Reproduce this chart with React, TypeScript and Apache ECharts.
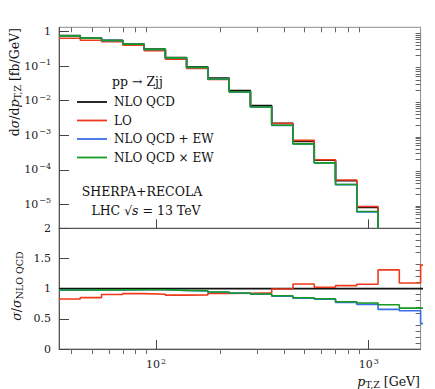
import React, { useEffect, useRef } from 'react';
import * as echarts from 'echarts';

// bin edges of p_T,Z [GeV] (last bin lies beyond the visible range)
const binEdges = [35, 44.06, 55.47, 69.83, 87.9, 110.7, 139.3, 175.4, 220.8, 278, 350, 440.6, 554.7, 698.3, 879, 1106.7, 1393, 1754, 2208];

// dσ/dp_T,Z [fb/GeV]
const nloQcd = [0.77, 0.66, 0.56, 0.44, 0.31, 0.178, 0.095, 0.045, 0.0195, 0.0072, 0.0022, 6.6e-4, 1.9e-4, 4.8e-5, 8.1e-6, 1.4e-6, 3e-7, 5e-8];
const lo = [0.638, 0.562, 0.506, 0.404, 0.281, 0.159, 0.085, 0.0414, 0.018, 0.0067, 0.00219, 7.11e-4, 1.94e-4, 5.04e-5, 8.68e-6, 1.84e-6, 3.3e-7, 7e-8];
const nloPlusEw = [0.752, 0.645, 0.548, 0.432, 0.304, 0.173, 0.0914, 0.0423, 0.018, 0.00653, 0.00192, 5.54e-4, 1.57e-4, 3.71e-5, 5.99e-6, 9.2e-7, 1.9e-7, 2e-8];
const nloTimesEw = [0.753, 0.646, 0.549, 0.433, 0.305, 0.173, 0.0917, 0.0425, 0.0181, 0.00656, 0.00194, 5.61e-4, 1.58e-4, 3.76e-5, 6.16e-6, 1.03e-6, 2.03e-7, 3.3e-8];

// σ / σ_NLO QCD
const ratioNlo = [1, 1, 1, 1, 1, 1, 1, 1, 1, 1, 1, 1, 1, 1, 1, 1, 1, 1];
const ratioLo = [0.828, 0.852, 0.903, 0.918, 0.908, 0.892, 0.895, 0.92, 0.925, 0.93, 0.995, 1.078, 1.022, 1.05, 1.072, 1.311, 1.094, 1.39];
const ratioPlusEw = [0.976, 0.977, 0.978, 0.981, 0.981, 0.97, 0.962, 0.94, 0.925, 0.907, 0.873, 0.84, 0.827, 0.772, 0.739, 0.656, 0.633, 0.42];
const ratioTimesEw = [0.978, 0.979, 0.98, 0.983, 0.983, 0.972, 0.965, 0.944, 0.928, 0.911, 0.883, 0.85, 0.833, 0.783, 0.761, 0.733, 0.678, 0.67];

const seriesNames = ['NLO QCD', 'LO', 'NLO QCD + EW', 'NLO QCD \u00d7 EW'];
const seriesColors = ['#111111', '#ee3a1c', '#3a6ee8', '#179a26'];

// axis ticks
const xMajorTicks = [100, 1000];
const xMinorTicks = [40, 50, 60, 70, 80, 90, 200, 300, 400, 500, 600, 700, 800, 900];
const yTopMajorTicks = [1, 0.1, 0.01, 0.001, 1e-4, 1e-5];
const yTopDecades = [1e-6, 1e-5, 1e-4, 1e-3, 1e-2, 1e-1];
const yTopMantissas = [2, 3, 4, 5, 6, 7, 8, 9];
const yBotMajorTicks = [0, 0.5, 1, 1.5, 2];
const yBotMinorTicks = [0.1, 0.2, 0.3, 0.4, 0.6, 0.7, 0.8, 0.9, 1.1, 1.2, 1.3, 1.4, 1.6, 1.7, 1.8, 1.9];

const X_MIN = 35;
const X_MAX = 1754;
const Y_TOP_MIN = 2.02e-6;
const Y_TOP_MAX = 1.33;

const FONT = '"DejaVu Serif", "Liberation Serif", serif';

function steps(edges: number[], vals: number[]) {
  const out: number[][] = [];
  for (let i = 0; i < vals.length; i++) {
    out.push([edges[i], vals[i]]);
    out.push([edges[i + 1], vals[i]]);
  }
  return out;
}

const supRich = {
  n: { fontFamily: FONT, fontSize: 11, color: '#222' },
  s: { fontFamily: FONT, fontSize: 8, color: '#222', padding: [0, 0, 7, 1] },
};

function powLabel(v: number) {
  const e = Math.round(Math.log10(v));
  if (e === 0) return '{n|1}';
  return '{n|10}{s|' + (e < 0 ? '\u2212' : '') + Math.abs(e) + '}';
}

const titleRich = {
  i: { fontFamily: FONT, fontSize: 12.5, fontStyle: 'italic', fill: '#111' },
  sub: { fontFamily: FONT, fontSize: 9.5, fill: '#111', padding: [6, 0, 0, 0] },
};

export default function App() {
  const ref = useRef<HTMLDivElement>(null);
  useEffect(() => {
    if (!ref.current) return;
    const chart = echarts.init(ref.current, undefined, { renderer: 'svg' });
    const yTopMinor: number[] = [];
    yTopDecades.forEach((d) =>
      yTopMantissas.forEach((m) => {
        const v = m * d;
        if (v > Y_TOP_MIN && v < Y_TOP_MAX) yTopMinor.push(v);
      })
    );
    const topVals = [nloQcd, lo, nloPlusEw, nloTimesEw];
    const botVals = [ratioNlo, ratioLo, ratioPlusEw, ratioTimesEw];
    const series: any[] = [];
    topVals.forEach((vals, i) => {
      series.push({
        type: 'line',
        name: seriesNames[i],
        xAxisIndex: 0,
        yAxisIndex: 0,
        data: steps(binEdges, vals),
        showSymbol: false,
        symbol: 'none',
        color: seriesColors[i],
        lineStyle: { color: seriesColors[i], width: 1.6 },
        clip: true,
        silent: true,
      });
    });
    botVals.forEach((vals, i) => {
      series.push({
        type: 'line',
        name: seriesNames[i],
        xAxisIndex: 2,
        yAxisIndex: 2,
        data: steps(binEdges, vals),
        showSymbol: false,
        symbol: 'none',
        color: seriesColors[i],
        lineStyle: { color: seriesColors[i], width: 1.6 },
        clip: true,
        silent: true,
      });
    });

    const axisLineStyle = { color: '#555', width: 1 };
    const majorTickStyle = { color: '#444', width: 1 };
    const minorTickStyle = { color: '#666', width: 1 };

    const xAxisBase = (grid: number) => ({
      type: 'log',
      gridIndex: grid,
      min: X_MIN,
      max: X_MAX,
      splitLine: { show: false },
      minorTick: { show: false },
    });

    const option: any = {
      animation: false,
      grid: [
        { left: 59, top: 27.3, width: 361.6, height: 201, show: true, borderColor: '#8c8c8c', borderWidth: 1, backgroundColor: 'transparent' },
        { left: 59, top: 228.3, width: 361.6, height: 120.7, show: true, borderColor: '#8c8c8c', borderWidth: 1, backgroundColor: 'transparent' },
      ],
      legend: {
        orient: 'vertical',
        left: 77,
        top: 95,
        padding: 0,
        itemWidth: 30,
        itemHeight: 1.8,
        itemGap: 4.5,
        icon: 'rect',
        selectedMode: false,
        data: seriesNames,
        textStyle: { fontFamily: FONT, fontSize: 12, color: '#111', lineHeight: 14, padding: [0, 0, 0, 2] },
      },
      xAxis: [
        {
          ...xAxisBase(0),
          axisLine: { show: true, lineStyle: axisLineStyle },
          axisTick: { show: true, inside: true, length: 9, customValues: xMajorTicks, lineStyle: majorTickStyle },
          axisLabel: { show: false },
        },
        {
          ...xAxisBase(0),
          axisLine: { show: false },
          axisTick: { show: true, inside: true, length: 5, customValues: xMinorTicks, lineStyle: minorTickStyle },
          axisLabel: { show: false },
        },
        {
          ...xAxisBase(1),
          axisLine: { show: true, lineStyle: axisLineStyle },
          axisTick: { show: true, inside: true, length: 9, customValues: xMajorTicks, lineStyle: majorTickStyle },
          axisLabel: {
            show: true,
            customValues: xMajorTicks,
            margin: 8,
            formatter: (v: number) => powLabel(v),
            rich: supRich,
          },
        },
        {
          ...xAxisBase(1),
          axisLine: { show: false },
          axisTick: { show: true, inside: true, length: 5, customValues: xMinorTicks, lineStyle: minorTickStyle },
          axisLabel: { show: false },
        },
      ],
      yAxis: [
        {
          type: 'log',
          gridIndex: 0,
          min: Y_TOP_MIN,
          max: Y_TOP_MAX,
          splitLine: { show: false },
          minorTick: { show: false },
          axisLine: { show: true, lineStyle: axisLineStyle },
          axisTick: { show: true, inside: true, length: 10, customValues: yTopMajorTicks, lineStyle: majorTickStyle },
          axisLabel: {
            show: true,
            customValues: yTopMajorTicks,
            margin: 8,
            formatter: (v: number) => powLabel(v),
            rich: supRich,
          },
        },
        {
          type: 'log',
          gridIndex: 0,
          min: Y_TOP_MIN,
          max: Y_TOP_MAX,
          splitLine: { show: false },
          minorTick: { show: false },
          axisLine: { show: false },
          axisTick: { show: true, inside: true, length: 5, customValues: yTopMinor, lineStyle: minorTickStyle },
          axisLabel: { show: false },
        },
        {
          type: 'value',
          gridIndex: 1,
          min: 0,
          max: 2,
          splitLine: { show: false },
          axisLine: { show: true, lineStyle: axisLineStyle },
          axisTick: { show: true, inside: true, length: 10, customValues: yBotMajorTicks, lineStyle: majorTickStyle },
          axisLabel: {
            show: true,
            customValues: yBotMajorTicks,
            margin: 8,
            fontFamily: FONT,
            fontSize: 11,
            color: '#222',
            formatter: (v: number) => String(v),
          },
        },
        {
          type: 'value',
          gridIndex: 1,
          min: 0,
          max: 2,
          splitLine: { show: false },
          axisLine: { show: false },
          axisTick: { show: true, inside: true, length: 5, customValues: yBotMinorTicks, lineStyle: minorTickStyle },
          axisLabel: { show: false },
        },
      ],
      series,
      graphic: [
        {
          type: 'text',
          x: 14,
          y: 28,
          rotation: Math.PI / 2,
          silent: true,
          style: {
            text: 'd{i|\u03c3}/d{i|p}{sub|T,Z} [fb/GeV]',
            fontFamily: FONT,
            fontSize: 12.5,
            fill: '#111',
            align: 'right',
            verticalAlign: 'middle',
            rich: titleRich,
          },
        },
        {
          type: 'text',
          x: 16,
          y: 286,
          rotation: Math.PI / 2,
          silent: true,
          style: {
            text: '{i|\u03c3}/{i|\u03c3}{sub|NLO QCD}',
            fontFamily: FONT,
            fontSize: 12.5,
            fill: '#111',
            align: 'center',
            verticalAlign: 'middle',
            rich: titleRich,
          },
        },
        {
          type: 'text',
          x: 420,
          y: 381,
          silent: true,
          style: {
            text: '{i|p}{sub|T,Z} [GeV]',
            fontFamily: FONT,
            fontSize: 12.5,
            fill: '#111',
            align: 'right',
            verticalAlign: 'middle',
            rich: titleRich,
          },
        },
        {
          type: 'text',
          x: 112,
          y: 81,
          silent: true,
          style: {
            text: 'pp \u2192 Zjj',
            fontFamily: FONT,
            fontSize: 12.5,
            fill: '#111',
            align: 'left',
            verticalAlign: 'middle',
          },
        },
        {
          type: 'text',
          x: 142,
          y: 191,
          silent: true,
          style: {
            text: 'SHERPA+RECOLA',
            fontFamily: FONT,
            fontSize: 12.5,
            fill: '#111',
            align: 'center',
            verticalAlign: 'middle',
          },
        },
        {
          type: 'text',
          x: 146,
          y: 210,
          silent: true,
          style: {
            text: 'LHC \u221a{i|s} = 13 TeV',
            fontFamily: FONT,
            fontSize: 12.5,
            fill: '#111',
            align: 'center',
            verticalAlign: 'middle',
            rich: {
              i: { fontFamily: FONT, fontSize: 12.5, fontStyle: 'italic', fill: '#111' },
            },
          },
        },
      ],
    };
    chart.setOption(option);
    return () => chart.dispose();
  }, []);
  return (
    <div
      ref={ref}
      style={{ position: 'absolute', left: 0, top: 0, width: 435, height: 389, background: '#fff' }}
    />
  );
}
